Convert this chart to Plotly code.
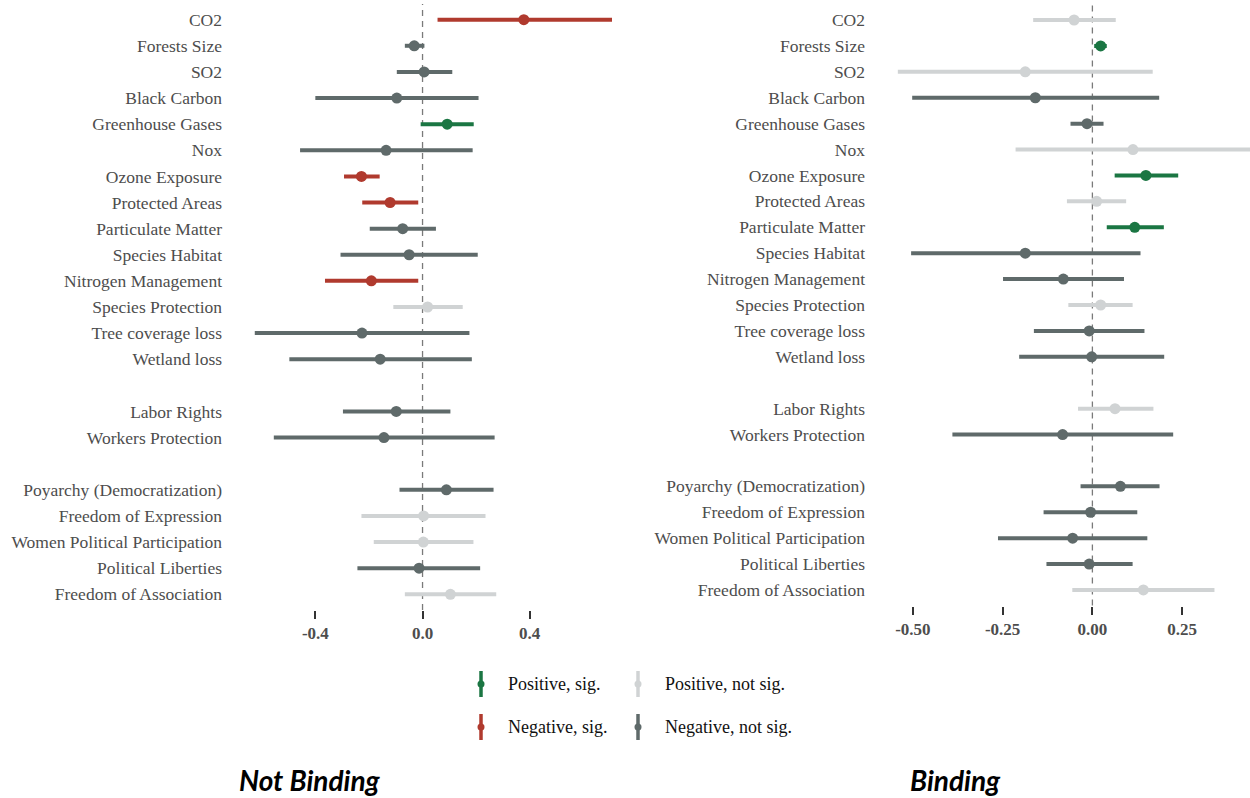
import plotly.graph_objects as go

# ---------------- data ----------------
labels = ["CO2", "Forests Size", "SO2", "Black Carbon", "Greenhouse Gases", "Nox",
          "Ozone Exposure", "Protected Areas", "Particulate Matter", "Species Habitat",
          "Nitrogen Management", "Species Protection", "Tree coverage loss", "Wetland loss",
          "Labor Rights", "Workers Protection",
          "Poyarchy (Democratization)", "Freedom of Expression", "Women Political Participation",
          "Political Liberties", "Freedom of Association"]
groups = ["Environment"] * 14 + ["Labor"] * 2 + ["Democracy"] * 5

left_est = [0.378, -0.031, 0.006, -0.096, 0.092, -0.136, -0.228, -0.121, -0.074, -0.050,
            -0.191, 0.019, -0.226, -0.158, -0.098, -0.144, 0.089, 0.004, 0.003, -0.013, 0.104]
left_lo = [0.056, -0.066, -0.096, -0.400, -0.007, -0.457, -0.293, -0.225, -0.197, -0.306,
           -0.364, -0.109, -0.626, -0.497, -0.297, -0.555, -0.086, -0.228, -0.182, -0.243, -0.066]
left_hi = [0.720, 0.007, 0.111, 0.209, 0.191, 0.187, -0.160, -0.016, 0.050, 0.206,
           -0.016, 0.150, 0.175, 0.184, 0.104, 0.269, 0.265, 0.235, 0.190, 0.215, 0.275]
left_sig = ["Negative, sig.", "Negative, not sig.", "Negative, not sig.", "Negative, not sig.",
            "Positive, sig.", "Negative, not sig.", "Negative, sig.", "Negative, sig.",
            "Negative, not sig.", "Negative, not sig.", "Negative, sig.", "Positive, not sig.",
            "Negative, not sig.", "Negative, not sig.", "Negative, not sig.", "Negative, not sig.",
            "Negative, not sig.", "Positive, not sig.", "Positive, not sig.", "Negative, not sig.",
            "Positive, not sig."]

right_est = [-0.051, 0.023, -0.187, -0.159, -0.015, 0.113, 0.149, 0.012, 0.118, -0.187,
             -0.081, 0.023, -0.009, -0.002, 0.063, -0.083, 0.078, -0.005, -0.055, -0.009, 0.142]
right_lo = [-0.165, 0.005, -0.542, -0.502, -0.061, -0.214, 0.062, -0.071, 0.040, -0.505,
            -0.249, -0.067, -0.163, -0.204, -0.040, -0.390, -0.033, -0.136, -0.263, -0.128, -0.056]
right_hi = [0.065, 0.040, 0.168, 0.186, 0.031, 0.460, 0.239, 0.094, 0.199, 0.134,
            0.088, 0.112, 0.145, 0.200, 0.170, 0.225, 0.187, 0.125, 0.153, 0.112, 0.340]
right_sig = ["Positive, not sig.", "Positive, sig.", "Positive, not sig.", "Negative, not sig.",
             "Negative, not sig.", "Positive, not sig.", "Positive, sig.", "Positive, not sig.",
             "Positive, sig.", "Negative, not sig.", "Negative, not sig.", "Positive, not sig.",
             "Negative, not sig.", "Negative, not sig.", "Positive, not sig.", "Negative, not sig.",
             "Negative, not sig.", "Negative, not sig.", "Negative, not sig.", "Negative, not sig.",
             "Positive, not sig."]

sig_levels = ["Positive, sig.", "Positive, not sig.", "Negative, sig.", "Negative, not sig."]
sig_colors = {"Positive, sig.": "#1B7643", "Positive, not sig.": "#D0D3D4",
              "Negative, sig.": "#B03A2E", "Negative, not sig.": "#5F6A6A"}

left_ticks = [-0.4, 0.0, 0.4]
right_ticks = [-0.50, -0.25, 0.00, 0.25]

panel_titles = ["Not Binding", "Binding"]

# ---------------- positions (one blank slot between groups) ----------------
pos = []
g_idx = 0
for i, g in enumerate(groups):
    if i > 0 and g != groups[i - 1]:
        g_idx += 1
    pos.append(i + g_idx)
n_slots = pos[-1] + 1

SERIF = "Liberation Serif"
fig = go.Figure()


def add_panel(est, lo, hi, sig, xa, ya):
    for lvl in sig_levels:
        idx = [i for i, s in enumerate(sig) if s == lvl]
        if not idx:
            continue
        c = sig_colors[lvl]
        fig.add_trace(go.Scatter(
            x=[est[i] for i in idx], y=[pos[i] for i in idx],
            mode="markers", xaxis=xa, yaxis=ya, showlegend=False,
            marker=dict(size=11, color=c, line=dict(width=0)),
            error_x=dict(type="data", symmetric=False,
                         array=[hi[i] - est[i] for i in idx],
                         arrayminus=[est[i] - lo[i] for i in idx],
                         color=c, thickness=4, width=0),
            cliponaxis=True,
        ))


add_panel(left_est, left_lo, left_hi, left_sig, "x", "y")
add_panel(right_est, right_lo, right_hi, right_sig, "x2", "y2")

# ---------------- manual legend (vertical pointrange glyphs) ----------------
leg_cols_x = [481, 638]
leg_rows_y = [684, 727]
for k, lvl in enumerate(sig_levels):
    cx = leg_cols_x[k % 2]
    cy = leg_rows_y[k // 2]
    c = sig_colors[lvl]
    fig.add_trace(go.Scatter(x=[cx, cx], y=[cy - 13, cy + 13], mode="lines",
                             line=dict(color=c, width=3.5), xaxis="x3", yaxis="y3",
                             showlegend=False, hoverinfo="skip"))
    fig.add_trace(go.Scatter(x=[cx], y=[cy], mode="markers",
                             marker=dict(color=c, size=7), xaxis="x3", yaxis="y3",
                             showlegend=False, hoverinfo="skip"))
    fig.add_annotation(x=cx + 25, y=cy, xref="x3", yref="y3", text=lvl, showarrow=False,
                       xanchor="left", yanchor="middle",
                       font=dict(family=SERIF, size=18, color="#111111"))

# ---------------- axes ----------------
ytick_font = dict(family=SERIF, size=17.5, color="#4D4D4D")
xtick_font = dict(family=SERIF, size=17, color="#4D4D4D", weight="bold")

common_x = dict(showgrid=False, zeroline=False, showline=False, ticks="outside",
                ticklen=8, tickwidth=1.5, tickcolor="#333333", tickfont=xtick_font)
common_y = dict(showgrid=False, zeroline=False, showline=False, ticks="",
                tickvals=pos, ticktext=labels, tickfont=ytick_font,
                range=[n_slots - 1 + 0.6, -0.6], ticklabelstandoff=9)

fig.update_layout(
    width=1250, height=798,
    margin=dict(l=0, r=0, t=0, b=0),
    paper_bgcolor="white", plot_bgcolor="rgba(0,0,0,0)",
    showlegend=False,
    xaxis=dict(domain=[0.1856, 0.4896], range=[-0.711, 0.707],
               tickvals=left_ticks, ticktext=[f"{v:.1f}" for v in left_ticks],
               anchor="y", **common_x),
    yaxis=dict(domain=[0.2356, 0.995], anchor="x", **common_y),
    xaxis2=dict(domain=[0.70, 1.0], range=[-0.6056, 0.439],
                tickvals=right_ticks, ticktext=[f"{v:.2f}" for v in right_ticks],
                anchor="y2", **common_x),
    yaxis2=dict(domain=[0.2412, 0.9944], anchor="x2", **common_y),
    xaxis3=dict(domain=[0, 1], range=[0, 1250], visible=False, fixedrange=True, anchor="y3"),
    yaxis3=dict(domain=[0, 1], range=[798, 0], visible=False, fixedrange=True, anchor="x3"),
)

# zero reference lines
for xr, yr in [("x", "y domain"), ("x2", "y2 domain")]:
    fig.add_shape(type="line", x0=0, x1=0, y0=0, y1=1, xref=xr, yref=yr,
                  line=dict(color="#7A7A7A", width=1.3, dash="6px,5px"), layer="below")

# panel titles
for title, cx in zip(panel_titles, [310, 955]):
    fig.add_annotation(x=cx, y=780, xref="x3", yref="y3", text=f"<b><i>{title}</i></b>",
                       showarrow=False, xanchor="center", yanchor="middle",
                       font=dict(family="Lato", size=28, color="#000000"))

fig.write_html("out.html", config={"displayModeBar": False},
               post_script="document.body.style.margin='0';document.body.style.overflow='hidden';")
